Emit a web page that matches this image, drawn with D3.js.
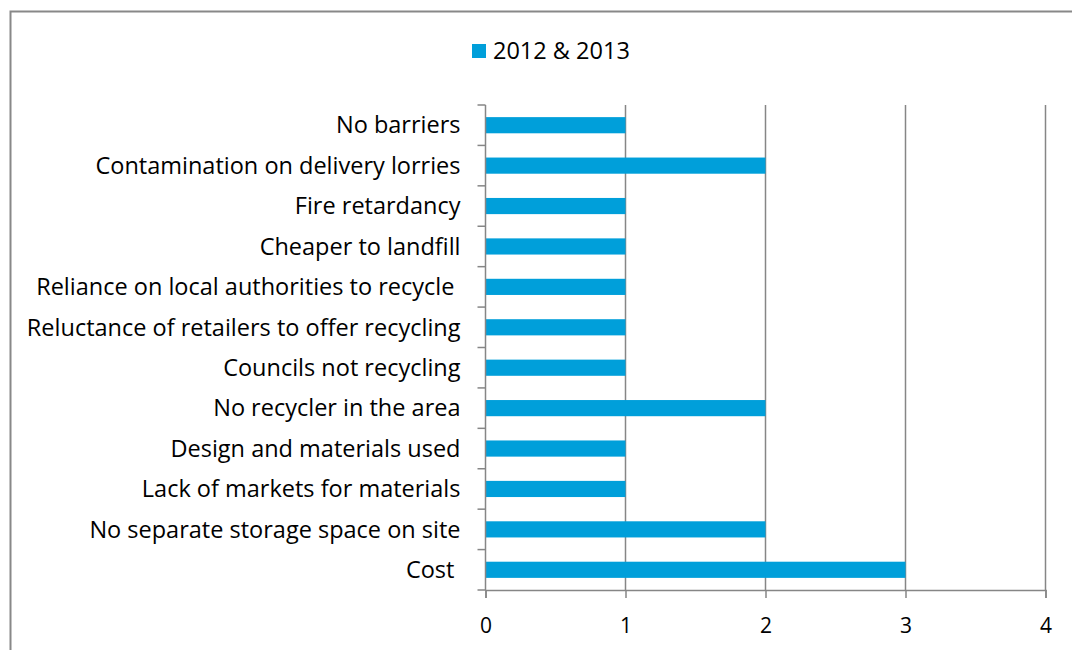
<!DOCTYPE html>
<html>
<head>
<meta charset="utf-8">
<script src="https://cdn.jsdelivr.net/npm/d3@7"></script>
<style>
  html, body { margin: 0; padding: 0; background: #fff; }
  svg text { font-family: "Open Sans", Lato, sans-serif; fill: #000; white-space: pre; }
</style>
</head>
<body>
<svg id="chart" width="1072" height="650"></svg>
<script>
// Barriers to recycling, responses 2012 & 2013 (bottom to top as drawn)
const categories = [
  "Cost ",
  "No separate storage space on site",
  "Lack of markets for materials",
  "Design and materials used",
  "No recycler in the area",
  "Councils not recycling",
  "Reluctance of retailers to offer recycling",
  "Reliance on local authorities to recycle ",
  "Cheaper to landfill",
  "Fire retardancy",
  "Contamination on delivery lorries",
  "No barriers"
];
const values = [3, 2, 1, 1, 2, 1, 1, 1, 1, 1, 2, 1];
const seriesName = "2012 & 2013";
const xTicks = [0, 1, 2, 3, 4];

const svg = d3.select("#chart");
const plot = { left: 485.5, right: 1045.5, top: 105, bottom: 590 };
const barColor = "#009FDA";
const axisColor = "#868686";
const fontSize = 23.5;

// Outer chart frame
svg.append("rect")
  .attr("x", 10.5).attr("y", 11.5)
  .attr("width", 1080).attr("height", 660)
  .attr("fill", "none").attr("stroke", "#888").attr("stroke-width", 2);

const x = d3.scaleLinear().domain([0, 4]).range([plot.left, plot.right]);
const y = d3.scaleBand()
  .domain(categories.slice().reverse())
  .range([plot.top, plot.bottom])
  .paddingInner(0.6).paddingOuter(0.3);

// Vertical gridlines
svg.append("g").selectAll("line")
  .data(xTicks.filter(t => t > 0))
  .join("line")
  .attr("x1", d => x(d)).attr("x2", d => x(d))
  .attr("y1", plot.top).attr("y2", plot.bottom)
  .attr("stroke", axisColor).attr("stroke-width", 1.5);

// Bars
svg.append("g").selectAll("rect")
  .data(categories.map((c, i) => ({ c, v: values[i] })))
  .join("rect")
  .attr("x", x(0))
  .attr("y", d => y(d.c))
  .attr("width", d => x(d.v) - x(0))
  .attr("height", y.bandwidth())
  .attr("fill", barColor);

// X axis
const xAxis = svg.append("g")
  .attr("transform", `translate(0,${plot.bottom})`)
  .call(d3.axisBottom(x).tickValues(xTicks).tickSize(8).tickPadding(20).tickFormat(d3.format("d")));
xAxis.select(".domain").attr("stroke", axisColor).attr("stroke-width", 1.5);
xAxis.selectAll(".tick line").attr("stroke", axisColor).attr("stroke-width", 1.5);
xAxis.selectAll("text").attr("font-size", 21).attr("font-family", "'Open Sans', Lato, sans-serif");

// Y axis with tick marks on band boundaries
const yAxisG = svg.append("g").attr("transform", `translate(${plot.left},0)`);
yAxisG.append("line")
  .attr("x1", 0).attr("x2", 0).attr("y1", plot.top).attr("y2", plot.bottom)
  .attr("stroke", axisColor).attr("stroke-width", 1.5);
const step = (plot.bottom - plot.top) / categories.length;
yAxisG.selectAll("line.tk")
  .data(d3.range(categories.length + 1))
  .join("line").attr("class", "tk")
  .attr("x1", -8).attr("x2", 0)
  .attr("y1", i => plot.top + i * step).attr("y2", i => plot.top + i * step)
  .attr("stroke", axisColor).attr("stroke-width", 1.5);
yAxisG.selectAll("text")
  .data(categories)
  .join("text")
  .attr("x", -25)
  .attr("y", d => y(d) + y.bandwidth() / 2)
  .attr("dy", "0.35em")
  .attr("text-anchor", "end")
  .attr("font-size", fontSize)
  .text(d => d);

// Legend
const legend = svg.append("g").attr("transform", "translate(472,44)");
legend.append("rect").attr("width", 14).attr("height", 14).attr("fill", barColor);
legend.append("text").attr("x", 21).attr("y", 7).attr("dy", "0.35em")
  .attr("font-size", fontSize).text(seriesName);
</script>
</body>
</html>
